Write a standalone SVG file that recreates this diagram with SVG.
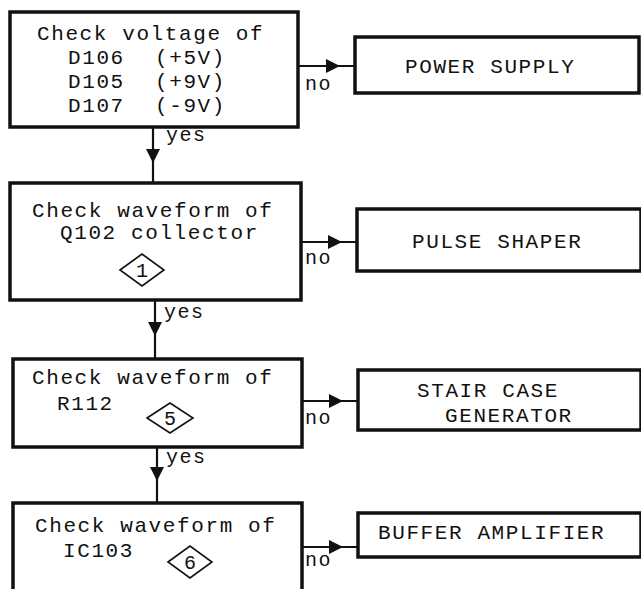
<svg xmlns="http://www.w3.org/2000/svg" width="641" height="589" viewBox="0 0 641 589">
<style>
.box{fill:#fff;stroke:#111;stroke-width:3.5}
.dia{fill:none;stroke:#111;stroke-width:1.6}
.t{font-family:"Liberation Mono","DejaVu Sans Mono",monospace;font-size:21px;letter-spacing:1.6px;fill:#111}
.s{font-family:"Liberation Mono","DejaVu Sans Mono",monospace;font-size:20px;letter-spacing:1.5px;fill:#111}
.n{font-family:"Liberation Mono","DejaVu Sans Mono",monospace;font-size:20px;fill:#111;text-anchor:middle}
.c{fill:none;stroke:#111;stroke-width:2.2}
</style>
<defs>
<marker id="ah" viewBox="0 0 10 10" refX="10" refY="5" markerWidth="14" markerHeight="14" markerUnits="userSpaceOnUse" orient="auto">
<path d="M0,0 L10,5 L0,10 Z" fill="#111"/>
</marker>
</defs>

<g id="connectors">
<path class="c" d="M153,127 L153,163 L153,183" marker-mid="url(#ah)"/>
<text class="s" x="166" y="141">yes</text>
<path class="c" d="M155,300 L155,336 L155,359" marker-mid="url(#ah)"/>
<text class="s" x="164" y="318">yes</text>
<path class="c" d="M157,447 L157,481 L157,503" marker-mid="url(#ah)"/>
<text class="s" x="166" y="463">yes</text>

<path class="c" d="M298,66 L340,66 L355,66" marker-mid="url(#ah)"/>
<text class="s" x="305" y="90">no</text>
<path class="c" d="M301,242 L342,242 L357,242" marker-mid="url(#ah)"/>
<text class="s" x="305" y="264">no</text>
<path class="c" d="M302,401 L343,401 L358,401" marker-mid="url(#ah)"/>
<text class="s" x="305" y="424">no</text>
<path class="c" d="M302,547 L343,547 L358,547" marker-mid="url(#ah)"/>
<text class="s" x="305" y="566">no</text>
</g>

<g id="n1">
<rect class="box" x="10" y="12" width="288" height="115"/>
<text class="t" x="37" y="40">Check voltage of</text>
<text class="t" x="68" y="64">D106<tspan x="155">(+5V)</tspan></text>
<text class="t" x="68" y="88">D105<tspan x="155">(+9V)</tspan></text>
<text class="t" x="68" y="112">D107<tspan x="155">(-9V)</tspan></text>
</g>

<g id="n2">
<rect class="box" x="10" y="183" width="291" height="117"/>
<text class="t" x="32" y="217">Check waveform of</text>
<text class="t" x="60" y="239">Q102 collector</text>
<polygon class="dia" points="120,270 142,254 164,270 142,286"/>
<text class="n" x="142" y="277">1</text>
</g>

<g id="n3">
<rect class="box" x="13" y="359" width="289" height="88"/>
<text class="t" x="32" y="384">Check waveform of</text>
<text class="t" x="57" y="410">R112</text>
<polygon class="dia" points="147,418 170,403 193,418 170,433"/>
<text class="n" x="170" y="425">5</text>
</g>

<g id="n4">
<rect class="box" x="13" y="503" width="289" height="95"/>
<text class="t" x="35" y="532">Check waveform of</text>
<text class="t" x="63" y="557">IC103</text>
<polygon class="dia" points="168,562 190,546 212,562 190,578"/>
<text class="n" x="190" y="569">6</text>
</g>

<g id="r1">
<rect class="box" x="355" y="37" width="284" height="56"/>
<text class="t" x="405" y="73">POWER SUPPLY</text>
</g>

<g id="r2">
<rect class="box" x="357" y="209" width="284" height="62"/>
<text class="t" x="412" y="248">PULSE SHAPER</text>
</g>

<g id="r3">
<rect class="box" x="358" y="370" width="283" height="60"/>
<text class="t" x="417" y="397">STAIR CASE</text>
<text class="t" x="445" y="422">GENERATOR</text>
</g>

<g id="r4">
<rect class="box" x="358" y="513" width="283" height="44"/>
<text class="t" x="378" y="539">BUFFER AMPLIFIER</text>
</g>
</svg>
